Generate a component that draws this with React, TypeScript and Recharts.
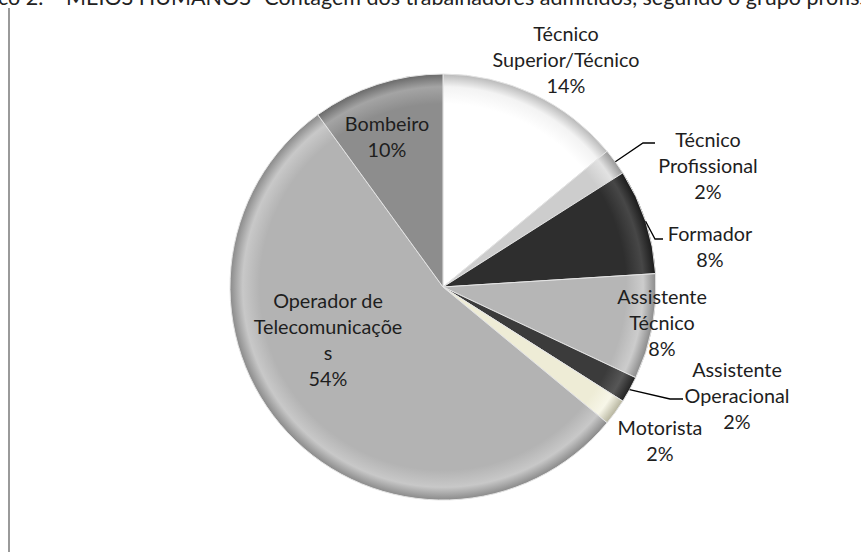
import { PieChart, Pie, Cell } from 'recharts';

// dados: número de trabalhadores admitidos por grupo profissional
const categories = [
  'Técnico Superior/Técnico',
  'Técnico Profissional',
  'Formador',
  'Assistente Técnico',
  'Assistente Operacional',
  'Motorista',
  'Operador de Telecomunicações',
  'Bombeiro',
];
const counts = [7, 1, 4, 4, 1, 1, 27, 5];

// rótulos tal como aparecem quebrados no gráfico original
const labelLines = [
  ['Técnico', 'Superior/Técnico'],
  ['Técnico', 'Profissional'],
  ['Formador'],
  ['Assistente', 'Técnico'],
  ['Assistente', 'Operacional'],
  ['Motorista'],
  ['Operador de', 'Telecomunicaçõe', 's'],
  ['Bombeiro'],
];

const data = categories.map((name, i) => ({ name, value: counts[i] }));

// estilo
const CX = 443;
const CY = 287;
const R = 213;
const FONT = 'Lato, "Open Sans", sans-serif';
const LINE_H = 26;

const palette = [
  { base: '#ffffff', rim: '#f3f3f3', edge: '#b9b9b9' },
  { base: '#cdcdcd', rim: '#e2e2e2', edge: '#989898' },
  { base: '#2e2e2e', rim: '#474747', edge: '#1a1a1a' },
  { base: '#b6b6b6', rim: '#cccccc', edge: '#8a8a8a' },
  { base: '#3b3b3b', rim: '#565656', edge: '#222222' },
  { base: '#eeecd6', rim: '#f7f6e8', edge: '#b6b49e' },
  { base: '#b3b3b3', rim: '#c8c8c8', edge: '#8a8a8a' },
  { base: '#8d8d8d', rim: '#a4a4a4', edge: '#696969' },
];

// posição dos rótulos (centro do bloco, relativo ao centro da tarte) e linhas de chamada
const labelLayout: { dx: number; dy: number; elbow?: [number, number]; end?: [number, number] }[] = [
  { dx: 123, dy: -228 },
  { dx: 265, dy: -122, elbow: [200, -144], end: [212, -144] },
  { dx: 267, dy: -41, elbow: [212, -48], end: [220, -48] },
  { dx: 219, dy: 35 },
  { dx: 294, dy: 108, elbow: [227, 112], end: [240, 112] },
  { dx: 217, dy: 153 },
  { dx: -115, dy: 52 },
  { dx: -56, dy: -151 },
];

const RADIAN = Math.PI / 180;

const renderLabel = (props: any) => {
  const { cx, cy, midAngle, outerRadius, index, percent } = props;
  const lay = labelLayout[index];
  const lines = [...labelLines[index], `${Math.round(percent * 100)}%`];
  const x = cx + lay.dx;
  const top = cy + lay.dy - ((lines.length - 1) * LINE_H) / 2;
  let leader = null;
  if (lay.elbow && lay.end) {
    const sx = cx + outerRadius * Math.cos(-midAngle * RADIAN);
    const sy = cy + outerRadius * Math.sin(-midAngle * RADIAN);
    leader = (
      <polyline
        points={`${sx},${sy} ${cx + lay.elbow[0]},${cy + lay.elbow[1]} ${cx + lay.end[0]},${cy + lay.end[1]}`}
        fill="none"
        stroke="#000"
        strokeWidth={1.3}
      />
    );
  }
  return (
    <g>
      {leader}
      <text x={x} y={top} textAnchor="middle" fontFamily={FONT} fontSize={19.8} fill="#1e1e1e">
        {lines.map((l, i) => (
          <tspan key={i} x={x} y={top + i * LINE_H} dominantBaseline="central">
            {l}
          </tspan>
        ))}
      </text>
    </g>
  );
};

export default function App() {
  return (
    <div style={{ position: 'absolute', left: 0, top: 0, width: 861, height: 552, background: '#fff', overflow: 'hidden' }}>
      <svg width={861} height={20} style={{ position: 'absolute', left: 0, top: 0 }}>
        <text y={5} fontFamily={FONT} fontSize={21.5} fill="#222" xmlSpace="preserve">
          <tspan x={-48}>Gráfico 2. –</tspan>
          <tspan x={66}>MEIOS HUMANOS- Contagem dos trabalhadores admitidos, segundo o grupo profissional</tspan>
        </text>
      </svg>
      <div style={{ position: 'absolute', left: 8, top: 8, bottom: 0, width: 2, background: '#9a9a9a' }} />
      <div style={{ position: 'absolute', left: 0, top: 0 }}>
        <PieChart width={861} height={552} margin={{ top: 0, right: 0, bottom: 0, left: 0 }}>
          <defs>
            {palette.map((p, i) => (
              <radialGradient key={i} id={`slice${i}`} cx={CX} cy={CY} r={R} gradientUnits="userSpaceOnUse">
                <stop offset="0" stopColor={p.base} />
                <stop offset="0.86" stopColor={p.base} />
                <stop offset="0.94" stopColor={p.rim} />
                <stop offset="1" stopColor={p.edge} />
              </radialGradient>
            ))}
          </defs>
          <Pie
            data={data}
            dataKey="value"
            nameKey="name"
            cx={CX}
            cy={CY}
            outerRadius={R}
            startAngle={90}
            endAngle={-270}
            stroke="#e4e4e4"
            strokeWidth={1}
            label={renderLabel}
            labelLine={false}
            isAnimationActive={false}
          >
            {data.map((_, i) => (
              <Cell key={i} fill={`url(#slice${i})`} />
            ))}
          </Pie>
        </PieChart>
      </div>
    </div>
  );
}
